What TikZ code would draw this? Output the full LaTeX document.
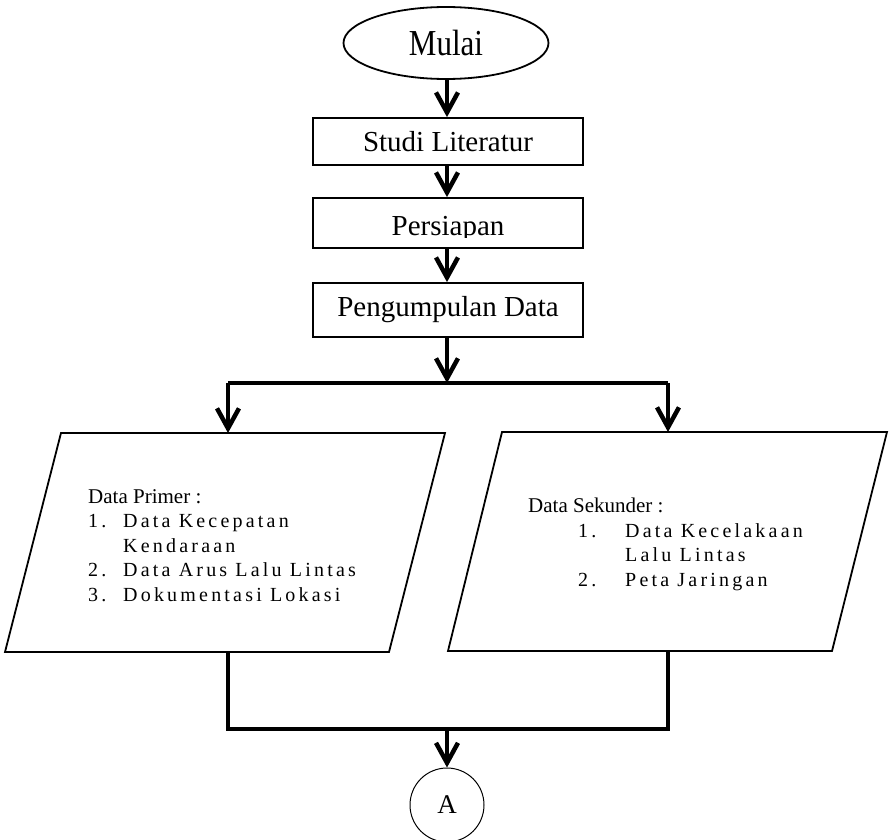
\documentclass[tikz,border=0pt]{standalone}
\usepackage{graphicx}
\usepackage{fontspec}
\setmainfont{Liberation Serif}
\newfontfamily\daftar[LetterSpace=16]{Liberation Serif}
\usetikzlibrary{arrows.meta,shapes.geometric}

\newcommand{\judul}[1]{{\normalfont\fontsize{21}{23}\selectfont #1}}

\begin{document}
\begin{tikzpicture}[x=1pt,y=-1pt,
    proses/.style={draw,line width=1.8pt,minimum width=270pt,inner sep=0pt,font=\fontsize{29}{32}\selectfont},
    bingkai/.style={draw,line width=1.8pt,line join=miter},
    isi/.style={anchor=base west,align=left,inner sep=0pt,font=\daftar\fontsize{20}{24.5}\selectfont},
    alur/.style={line width=4.5pt,-{Straight Barb[length=20pt,width=22pt]}},
    garis/.style={line width=4pt}]
  \useasboundingbox (0,0) rectangle (892,840);

  \node[draw,ellipse,line width=1.8pt,minimum width=205pt,minimum height=72pt,inner sep=0pt,
    font=\fontsize{31}{34}\selectfont] (mulai) at (446,43) {\scalebox{1}[1.18]{Mulai}};
  \node[proses,minimum height=47pt] (studi) at (448,141.5) {Studi Literatur};
  \node[proses,minimum height=50pt] (persiapan) at (448,223) {};
  \begin{scope}
    \clip (330,200) rectangle (570,237);
    \node[anchor=base,inner sep=0pt,font=\fontsize{29}{32}\selectfont] (persiapanteks) at (448,235) {Persiapan};
  \end{scope}
  \node[proses,minimum height=54pt] (kumpul) at (448,310) {Pengumpulan Data};

  \coordinate (cabang) at (447,383);
  \coordinate (kiri) at (228,383);
  \coordinate (kanan) at (668,383);

  % data primer
  \coordinate (primerA) at (61,433);
  \coordinate (primerB) at (445,433);
  \coordinate (primerC) at (389,652);
  \coordinate (primerD) at (5,652);
  \draw[bingkai] (primerA) -- (primerB) -- (primerC) -- (primerD) -- cycle;
  \node[isi] (primer) at (88,601) {\judul{Data Primer :}\\
    \makebox[35pt][l]{1.}Data Kecepatan\\
    \hspace*{35pt}Kendaraan\\
    \makebox[35pt][l]{2.}Data Arus Lalu Lintas\\
    \makebox[35pt][l]{3.}Dokumentasi Lokasi};

  % data sekunder
  \coordinate (sekunderA) at (502,432);
  \coordinate (sekunderB) at (887,432);
  \coordinate (sekunderC) at (832,651);
  \coordinate (sekunderD) at (448,651);
  \draw[bingkai] (sekunderA) -- (sekunderB) -- (sekunderC) -- (sekunderD) -- cycle;
  \node[isi] (sekunder) at (528,586) {\judul{Data Sekunder :}\\
    \hspace*{50pt}\makebox[47pt][l]{1.}Data Kecelakaan\\
    \hspace*{97pt}Lalu Lintas\\
    \hspace*{50pt}\makebox[47pt][l]{2.}Peta Jaringan};

  \coordinate (gabung) at (447,729);
  \node[draw,circle,line width=1pt,minimum size=74pt,inner sep=0pt,font=\fontsize{27}{30}\selectfont] (A) at (447,805) {A};

  \draw[alur] (mulai.south -| cabang) -- (studi.north -| cabang);
  \draw[alur] (studi.south -| cabang) -- (persiapan.north -| cabang);
  \draw[alur] (persiapan.south -| cabang) -- (kumpul.north -| cabang);
  \draw[alur] (kumpul.south -| cabang) -- (cabang);
  \draw[garis] (kiri) -- (kanan);
  \draw[alur] (kiri) -- (kiri |- primerA);
  \draw[alur] (kanan) -- (kanan |- sekunderA);
  \draw[garis] (kiri |- primerD) |- (gabung) -| (kanan |- sekunderD);
  \draw[alur] (gabung) -- (A);
\end{tikzpicture}
\end{document}
